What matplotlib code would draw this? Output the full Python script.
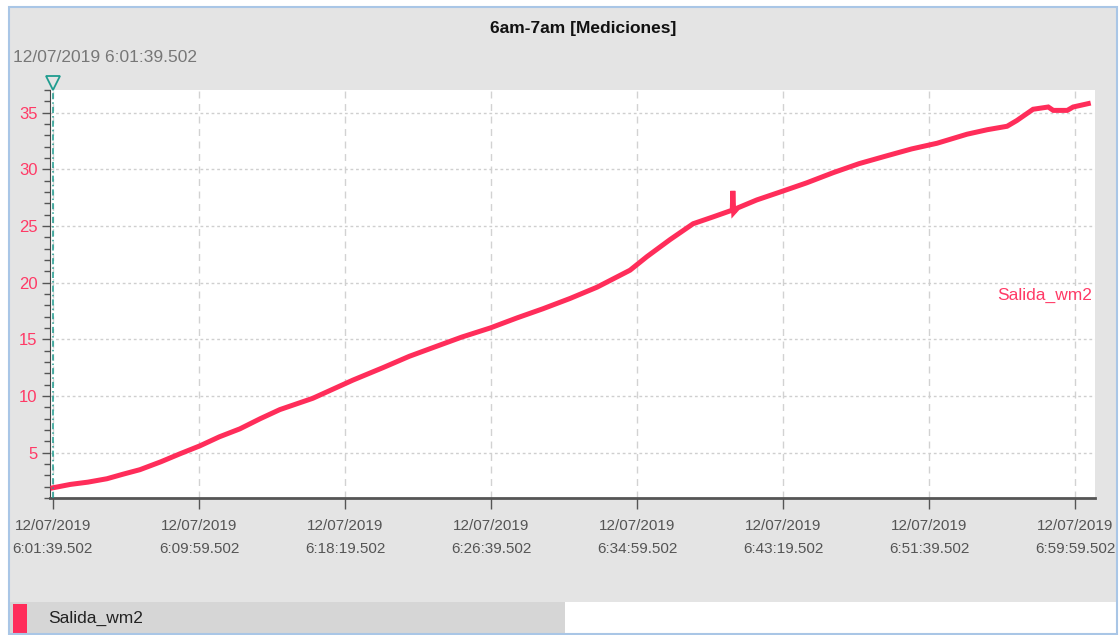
import matplotlib
matplotlib.use("Agg")
import matplotlib.pyplot as plt
from matplotlib.patches import Rectangle
from matplotlib.transforms import blended_transform_factory
from matplotlib.ticker import MultipleLocator

plt.rcParams['font.family'] = ['Liberation Sans', 'DejaVu Sans']

# seconds since 12/07/2019 6:01:39.502, and the logged value of Salida_wm2
t_sec = [0, 60, 120, 185, 240, 298, 370, 435, 503, 570, 640, 710, 777, 890,
         1027, 1130, 1220, 1315, 1400, 1497, 1590, 1678, 1770, 1863, 1976,
         2034, 2113, 2192, 2260, 2326, 2328, 2331, 2345, 2410, 2490, 2580,
         2671, 2760, 2856, 2940, 3027, 3130, 3200, 3267, 3300, 3356, 3408,
         3425, 3473, 3493, 3545]
salida = [1.9, 2.2, 2.4, 2.7, 3.1, 3.5, 4.2, 4.9, 5.6, 6.4, 7.1, 8.0, 8.8,
          9.8, 11.4, 12.5, 13.5, 14.4, 15.2, 16.0, 16.9, 17.7, 18.6, 19.6,
          21.1, 22.3, 23.8, 25.2, 25.8, 26.4, 28.1, 26.2, 26.6, 27.3, 28.0,
          28.8, 29.7, 30.5, 31.2, 31.8, 32.3, 33.1, 33.5, 33.8, 34.3, 35.3,
          35.5, 35.2, 35.2, 35.5, 35.8]

x_ticks = [0, 500, 1000, 1500, 2000, 2500, 3000, 3500]
x_labels = ["12/07/2019\n6:01:39.502", "12/07/2019\n6:09:59.502",
            "12/07/2019\n6:18:19.502", "12/07/2019\n6:26:39.502",
            "12/07/2019\n6:34:59.502", "12/07/2019\n6:43:19.502",
            "12/07/2019\n6:51:39.502", "12/07/2019\n6:59:59.502"]
y_ticks = [5, 10, 15, 20, 25, 30, 35]

line_red = '#ff2d5a'
label_red = '#ff3a66'
panel_gray = '#e4e4e4'
teal = '#1f9c8f'
W, H = 1119, 635

fig = plt.figure(figsize=(W / 100, H / 100), dpi=100, facecolor='white')

# panel background, legend strip and outer border (pixel boxes -> figure fractions)
def box(x0, y0, x1, y1, z=-2, **kw):
    fig.patches.append(Rectangle((x0 / W, 1 - y1 / H), (x1 - x0) / W, (y1 - y0) / H,
                                 transform=fig.transFigure, zorder=z, **kw))

box(9, 7, 1117, 602, facecolor=panel_gray, edgecolor='none')
box(9, 602, 565, 634, facecolor='#d6d6d6', edgecolor='none')
box(13, 604, 27, 634, facecolor=line_red, edgecolor='none')
box(9, 7, 1117, 634, z=-1, facecolor='none', edgecolor='#a9c6e6', linewidth=1.5)

ax = fig.add_axes([50 / W, 1 - 498 / H, (1095 - 50) / W, (498 - 90) / H])
ax.set_facecolor('white')
ax.plot(t_sec, salida, color=line_red, linewidth=3.6, solid_joinstyle='miter', zorder=3)

ax.set_xlim(-10, 3568)
ax.set_ylim(1, 37)
ax.set_xticks(x_ticks)
ax.set_xticklabels(x_labels, color='#555566', fontsize=11, linespacing=1.8)
ax.set_yticks(y_ticks)
ax.yaxis.set_minor_locator(MultipleLocator(1))
ax.tick_params(axis='y', which='major', colors='#555555', labelcolor=label_red,
               labelsize=12, length=6, width=1, direction='out', pad=3)
ax.tick_params(axis='y', which='minor', colors='#555555', length=4, width=1)
ax.tick_params(axis='x', colors='#555555', length=8, width=1, pad=7)

for side in ('top', 'right'):
    ax.spines[side].set_visible(False)
ax.spines['left'].set_color('#444444')
ax.spines['bottom'].set_color('#555555')
ax.spines['bottom'].set_linewidth(2)

ax.xaxis.grid(True, color='#d2d2d2', linestyle=(0, (5, 4)), linewidth=1)
ax.yaxis.grid(True, color='#cfcfcf', linestyle=(0, (2, 2)), linewidth=1)
ax.set_axisbelow(True)

# cursor at the start of the hour
ax.axvline(0, color=teal, linestyle=(0, (4, 2, 1, 2)), linewidth=1.1, zorder=4)
trans = blended_transform_factory(ax.transData, ax.transAxes)
ax.plot([0], [1.016], marker='v', markersize=10, markerfacecolor='none',
        markeredgecolor=teal, markeredgewidth=1.3, transform=trans, clip_on=False)

ax.text(0.997, 0.497, "Salida_wm2", transform=ax.transAxes, ha='right', va='center',
        color=label_red, fontsize=12.5)

fig.text(583 / W, 1 - 28 / H, "6am-7am [Mediciones]", ha='center', va='center',
         fontsize=12.5, fontweight='bold', color='#111111')
fig.text(13 / W, 1 - 58 / H, "12/07/2019 6:01:39.502", ha='left', va='center',
         fontsize=12.5, color='#777777')
fig.text(48 / W, 1 - 618 / H, "Salida_wm2", ha='left', va='center',
         fontsize=12.5, color='#222222')

fig.savefig('out.png', dpi=100, facecolor=fig.get_facecolor())
